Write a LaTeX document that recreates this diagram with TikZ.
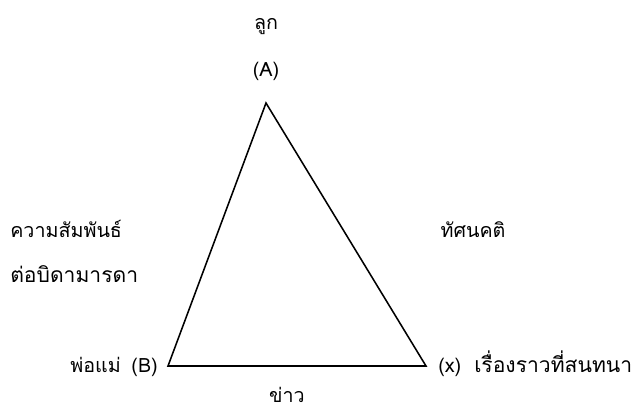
\documentclass[tikz,border=0pt]{standalone}
\usepackage{fontspec}
\newfontfamily\thaifont[Script=Thai]{Loma}
\setmainfont{Liberation Sans}
\begin{document}
\begin{tikzpicture}[x=0.025cm,y=-0.025cm,
  lbl/.style={font=\thaifont\fontsize{14pt}{16pt}\selectfont, inner sep=0pt},
  big/.style={font=\thaifont\fontsize{15pt}{17pt}\selectfont, inner sep=0pt},
  edge/.style={line width=1.1pt, line join=miter}]
\useasboundingbox (0,0) rectangle (640,410);
\coordinate (A) at (266,103);
\coordinate (B) at (168,366);
\coordinate (X) at (426,366);
\draw[edge] (A) -- (B) -- (X) -- cycle;
\node[lbl] (luk) at (266,27) {ลูก};
\node[lbl] (Alab) at (266,71) {(A)};
\node[lbl, anchor=west] (rel) at (10,229) {ความสัมพันธ์};
\node[big, anchor=west] (par) at (10,274) {ต่อบิดามารดา};
\node[lbl] (att) at (473,230) {ทัศนคติ};
\node[lbl, anchor=base west] (pm) at (70,372) {พ่อแม่};
\node[lbl, anchor=base east] (Blab) at (158,372) {(B)};
\node[lbl, anchor=base west] (Xlab) at (438,372) {(x)};
\node[big, anchor=base west] (story) at (474,372) {เรื่องราวที่สนทนา};
\node[lbl] (news) at (287,395) {ข่าว};
\end{tikzpicture}
\end{document}
